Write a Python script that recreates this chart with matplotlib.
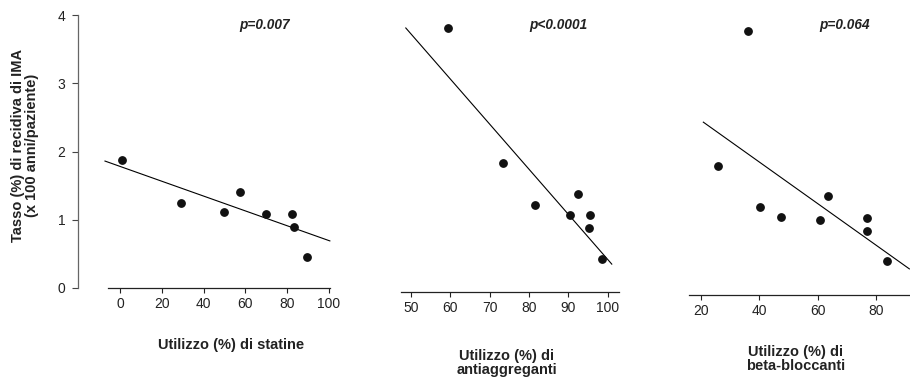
import numpy as np
import matplotlib
matplotlib.use("Agg")
import matplotlib.pyplot as plt

plt.rcParams['font.family'] = ['Liberation Sans', 'DejaVu Sans']

# ---------- Data ----------
statine_x = [1.0, 29.3, 49.9, 57.7, 69.7, 82.6, 83.3, 89.6]
statine_y = [1.88, 1.24, 1.12, 1.40, 1.08, 1.09, 0.90, 0.46]
statine_fit_x = [-7.2, 100.5]
statine_fit_y = [1.86, 0.69]

antiagg_x = [59.4, 73.4, 81.4, 90.3, 92.4, 95.4, 95.3, 98.4]
antiagg_y = [3.81, 1.83, 1.22, 1.07, 1.38, 1.07, 0.88, 0.42]
antiagg_fit_x = [48.7, 101.0]
antiagg_fit_y = [3.81, 0.35]

beta_x = [36.2, 25.9, 40.2, 47.3, 60.8, 63.5, 77.0, 76.8, 83.7]
beta_y = [3.76, 1.79, 1.18, 1.04, 1.00, 1.35, 1.02, 0.84, 0.39]
beta_fit_x = [20.8, 91.4]
beta_fit_y = [2.43, 0.28]

p_values = ["p=0.007", "p<0.0001", "p=0.064"]
x_labels = ["Utilizzo (%) di statine",
            "Utilizzo (%) di\nantiaggreganti",
            "Utilizzo (%) di\nbeta-bloccanti"]
y_label = "Tasso (%) di recidiva di IMA\n(x 100 anni/paziente)"

# ---------- Layout ----------
fig = plt.figure(figsize=(9.1, 3.78), dpi=100)
bottom, height = 0.2381, 0.7222
ax1 = fig.add_axes([0.0854, bottom, 0.2773, height])
ax2 = fig.add_axes([0.4403, bottom, 0.2402, height])
ax3 = fig.add_axes([0.7575, bottom, 0.2418, height])

panels = [
    (ax1, statine_x, statine_y, statine_fit_x, statine_fit_y,
     (-20.26, 100.6), (-5.75, 100.6), [0, 20, 40, 60, 80, 100], 0,
     0.742, (0.608, -0.209)),
    (ax2, antiagg_x, antiagg_y, antiagg_fit_x, antiagg_fit_y,
     (47.4, 102.9), (47.4, 102.9), [50, 60, 70, 80, 90, 100], 2.9,
     0.72, (0.485, -0.275)),
    (ax3, beta_x, beta_y, beta_fit_x, beta_fit_y,
     (16.0, 91.4), (16.0, 91.4), [20, 40, 60, 80], 4.75,
     0.705, (0.484, -0.260)),
]

for i, (ax, xs, ys, fx, fy, xlim, bounds, xticks, offset, px, lab) in enumerate(panels):
    ax.plot(fx, fy, color='black', lw=0.8, clip_on=False, zorder=2)
    ax.plot(xs, ys, 'o', color='#111111', markersize=5.3, clip_on=False, zorder=3)
    ax.set_xlim(*xlim)
    ax.set_ylim(0, 4)
    ax.patch.set_alpha(0)

    for s in ['top', 'right']:
        ax.spines[s].set_visible(False)
    ax.spines['bottom'].set_bounds(*bounds)
    ax.spines['bottom'].set_position(('outward', offset))
    ax.spines['bottom'].set_color('#222222')
    ax.spines['bottom'].set_linewidth(0.9)

    ax.set_xticks(xticks)
    ax.tick_params(axis='x', length=3.6, width=0.8, color='#222222',
                   labelsize=10, labelcolor='#222222', pad=3)

    ax.set_xlabel(x_labels[i], fontsize=10.5, fontweight='bold',
                  linespacing=1.0, color='#222222')
    ax.xaxis.set_label_coords(*lab)
    ax.xaxis.label.set_va('center')

    ax.text(px, 0.963, p_values[i], transform=ax.transAxes, ha='center',
            va='center', fontsize=9.8, fontweight='bold', style='italic',
            color='#222222')

    if i == 0:
        ax.spines['left'].set_color('#666666')
        ax.spines['left'].set_linewidth(0.9)
        ax.set_yticks([0, 1, 2, 3, 4])
        ax.tick_params(axis='y', length=4.3, width=0.8, color='#444444',
                       labelsize=10, labelcolor='#222222', pad=4.5)
        ax.set_ylabel(y_label, fontsize=10.5, fontweight='bold',
                      linespacing=1.0, color='#222222')
        ax.yaxis.set_label_coords(-0.209, 0.524)
        ax.yaxis.label.set_va('center')
    else:
        ax.spines['left'].set_visible(False)
        ax.set_yticks([])

fig.savefig("out.png", dpi=100)
